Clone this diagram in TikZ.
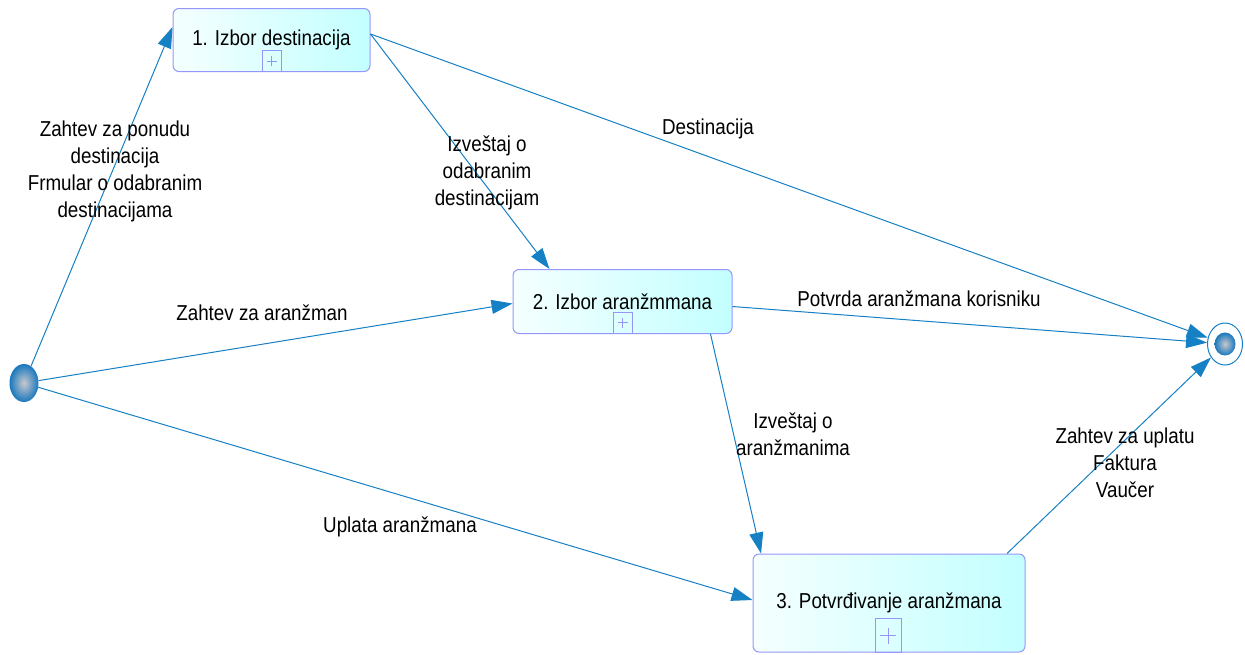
\documentclass[tikz,border=0pt]{standalone}
\usepackage{fontspec}
\setmainfont{Liberation Sans}[FakeStretch=0.87]
\usetikzlibrary{shapes.geometric,arrows.meta}
\definecolor{edgeblue}{RGB}{22,128,196}
\definecolor{boxborder}{RGB}{150,150,250}
\definecolor{boxcyan}{RGB}{195,255,255}
\definecolor{boxlight}{RGB}{245,255,255}
\definecolor{ballblue}{RGB}{25,120,190}
\definecolor{ballgrey}{RGB}{200,200,205}
\tikzset{
  flow/.style={draw=edgeblue, line width=1pt, -{Triangle[length=21pt,width=14pt]}},
  procbox/.style={draw=boxborder, line width=1pt, rounded corners=6pt, shade, left color=boxlight, right color=boxcyan, inner sep=0pt, font=\fontsize{21.6}{27}\selectfont},
  plusbox/.style={draw=boxborder, line width=1pt, fill=none, inner sep=0pt,
    path picture={\draw[boxborder, line width=0.8pt]
      ([xshift=-5pt]path picture bounding box.center) -- ([xshift=5pt]path picture bounding box.center)
      ([yshift=-5pt]path picture bounding box.center) -- ([yshift=5pt]path picture bounding box.center);}},
  lbl/.style={align=center, inner sep=0pt, font=\fontsize{21.6}{27}\selectfont}
}
\begin{document}
\begin{tikzpicture}[x=1pt,y=-1pt]
\useasboundingbox (0,0) rectangle (1245,654);
% process boxes
\node[procbox, minimum width=197pt, minimum height=63pt] (b1) at (271.5,40) {1. Izbor destinacija};
\node[procbox, minimum width=219pt, minimum height=64pt] (b2) at (622.5,301.5) {2. Izbor aranžmmana};
\node[procbox, minimum width=272pt, minimum height=98pt] (b3) at (889,603) {3. Potvrđivanje aranžmana};
\node[plusbox, minimum width=19pt, minimum height=21pt] (p1) at (271.5,61) {};
\node[plusbox, minimum width=19pt, minimum height=21pt] (p2) at (622.5,322.5) {};
\node[plusbox, minimum width=26pt, minimum height=34pt,
  path picture={\draw[boxborder, line width=0.8pt]
      ([xshift=-8pt]path picture bounding box.center) -- ([xshift=8pt]path picture bounding box.center)
      ([yshift=-8pt]path picture bounding box.center) -- ([yshift=8pt]path picture bounding box.center);}] (p3) at (888,635.5) {};
% start event
\node[ellipse, minimum width=29pt, minimum height=38pt, inner sep=0pt, shade, inner color=ballgrey, outer color=ballblue] (start) at (24,383) {};
% end event
\node[ellipse, draw=edgeblue, line width=1pt, fill=white, minimum width=35pt, minimum height=42pt, inner sep=0pt] (end) at (1225,344) {};
\node[ellipse, minimum width=21pt, minimum height=23pt, inner sep=0pt, shade, inner color=ballgrey, outer color=ballblue] (endin) at (1225,344) {};
% connectors
\draw[flow] (start) -- ([yshift=13pt]b1.west);
\draw[flow] (start) -- ([yshift=-2pt]b2.west);
\draw[flow] (start) -- ([yshift=3pt]b3.west);
\draw[flow] ([yshift=6pt]b1.east) -- ([xshift=-73pt]b2.north);
\draw[flow] ([yshift=6pt]b1.east) -- (end);
\draw[flow] ([yshift=-5pt]b2.east) -- (end);
\draw[flow] ([xshift=88pt]b2.south) -- ([xshift=-128pt]b3.north);
\draw[flow] ([xshift=118pt]b3.north) -- (end);
% labels
\node[lbl] (l1) at (115,171.5) {Zahtev za ponudu\\destinacija\\Frmular o odabranim\\destinacijama};
\node[lbl] (l2) at (487,173) {Izveštaj o\\odabranim\\destinacijam};
\node[lbl] (l3) at (708,129) {Destinacija};
\node[lbl] (l4) at (262,313) {Zahtev za aranžman};
\node[lbl] (l5) at (919,299) {Potvrda aranžmana korisniku};
\node[lbl] (l6) at (793,434.5) {Izveštaj o\\aranžmanima};
\node[lbl] (l7) at (1125,463) {Zahtev za uplatu\\Faktura\\Vaučer};
\node[lbl] (l8) at (400,527) {Uplata aranžmana};
\end{tikzpicture}
\end{document}
